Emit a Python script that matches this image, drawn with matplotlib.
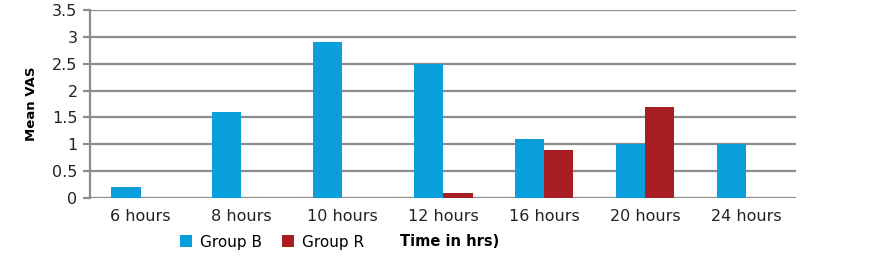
import matplotlib.pyplot as plt
import numpy as np

plt.rcParams['font.family'] = ['DejaVu Sans']

times = ['6 hours', '8 hours', '10 hours', '12 hours', '16 hours', '20 hours', '24 hours']
group_b = [0.2, 1.6, 2.9, 2.5, 1.1, 1.0, 1.0]
group_r = [0, 0, 0, 0.1, 0.9, 1.7, 0]

fig = plt.figure(figsize=(8.7, 2.58), dpi=100)
ax = fig.add_axes([0.1035, 0.233, 0.812, 0.728])

x = np.arange(len(times))
w = 0.29
ax.bar(x - w / 2, group_b, width=w, color='#0a9fdc', label='Group B', zorder=3)
ax.bar(x + w / 2, group_r, width=w, color='#a81d24', label='Group R', zorder=3)

ax.set_xlim(-0.5, len(times) - 0.5)
ax.set_ylim(0, 3.5)
ax.set_yticks(np.arange(0, 3.51, 0.5))
ax.set_yticklabels(['0', '0.5', '1', '1.5', '2', '2.5', '3', '3.5'])
ax.set_xticks(x)
ax.set_xticklabels(times)
ax.yaxis.grid(True, color='#8c8c8c', linewidth=1.6, zorder=0)
for s in ['top', 'right', 'bottom']:
    ax.spines[s].set_visible(False)
ax.spines['left'].set_color('#8c8c8c')
ax.spines['left'].set_linewidth(1.6)
ax.tick_params(axis='y', length=5, width=1.6, color='#8c8c8c', labelsize=11.5,
               pad=4, labelcolor='#222222')
ax.tick_params(axis='x', length=0, labelsize=11.5, pad=8, labelcolor='#222222')
ax.set_ylabel('Mean VAS', fontsize=9.5, fontweight='bold', labelpad=10)

fig.legend(loc='center left', bbox_to_anchor=(180 / 870, 1 - 242 / 258), ncol=2,
           frameon=False, fontsize=11, handlelength=0.8, handleheight=0.8,
           handletextpad=0.5, columnspacing=1.3, borderaxespad=0, borderpad=0)
fig.text(400 / 870, 1 - 242 / 258, 'Time in hrs)', fontsize=10.5, fontweight='bold', va='center')

fig.savefig('out.png', dpi=100)
